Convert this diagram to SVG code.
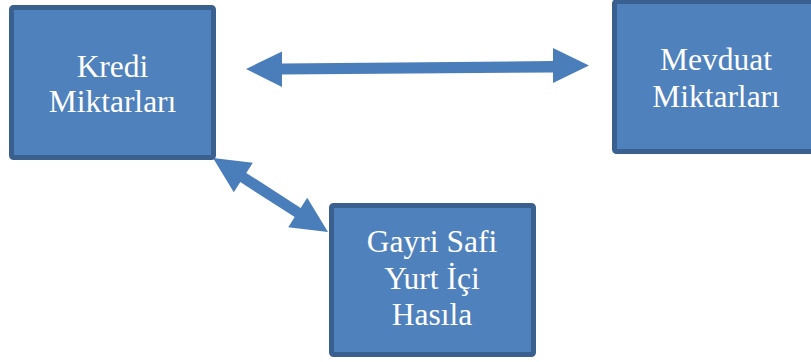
<svg xmlns="http://www.w3.org/2000/svg" width="811" height="362" viewBox="0 0 811 362">
<style>
.box{fill:#4F81BD;stroke:#3A6090;stroke-width:5}
.lbl{font-family:"Liberation Serif","Times New Roman",serif;font-size:31.5px;fill:#FFFFFF;text-anchor:middle}
.arr{fill:#4A7EBB}
</style>
<rect width="811" height="362" fill="#FFFFFF"/>
<g id="connectors">
<polygon class="arr" points="246,69 282,51.5 282,63.5 553,61 553,48 589,65.5 553,83 553,72.5 282,74.5 282,87"/>
<polygon class="arr" points="213,158 252.8,162.8 246.3,172.9 300.7,207.9 307.2,197.8 328,232 288.2,227.2 294.7,217.1 240.3,182.1 233.8,192.2"/>
</g>
<g id="kredi">
<rect class="box" x="11.5" y="7.5" width="202" height="150" rx="2"/>
<text class="lbl" x="112.5" y="77">Kredi</text>
<text class="lbl" x="112.5" y="111.5">Miktarları</text>
</g>
<g id="mevduat">
<rect class="box" x="614.5" y="1.5" width="202" height="150" rx="2"/>
<text class="lbl" x="716" y="70">Mevduat</text>
<text class="lbl" x="716" y="106.5">Miktarları</text>
</g>
<g id="gsyih">
<rect class="box" x="331.5" y="205.5" width="202" height="149" rx="2"/>
<text class="lbl" x="432" y="252">Gayri Safi</text>
<text class="lbl" x="432" y="288.5">Yurt İçi</text>
<text class="lbl" x="432" y="325">Hasıla</text>
</g>
</svg>
